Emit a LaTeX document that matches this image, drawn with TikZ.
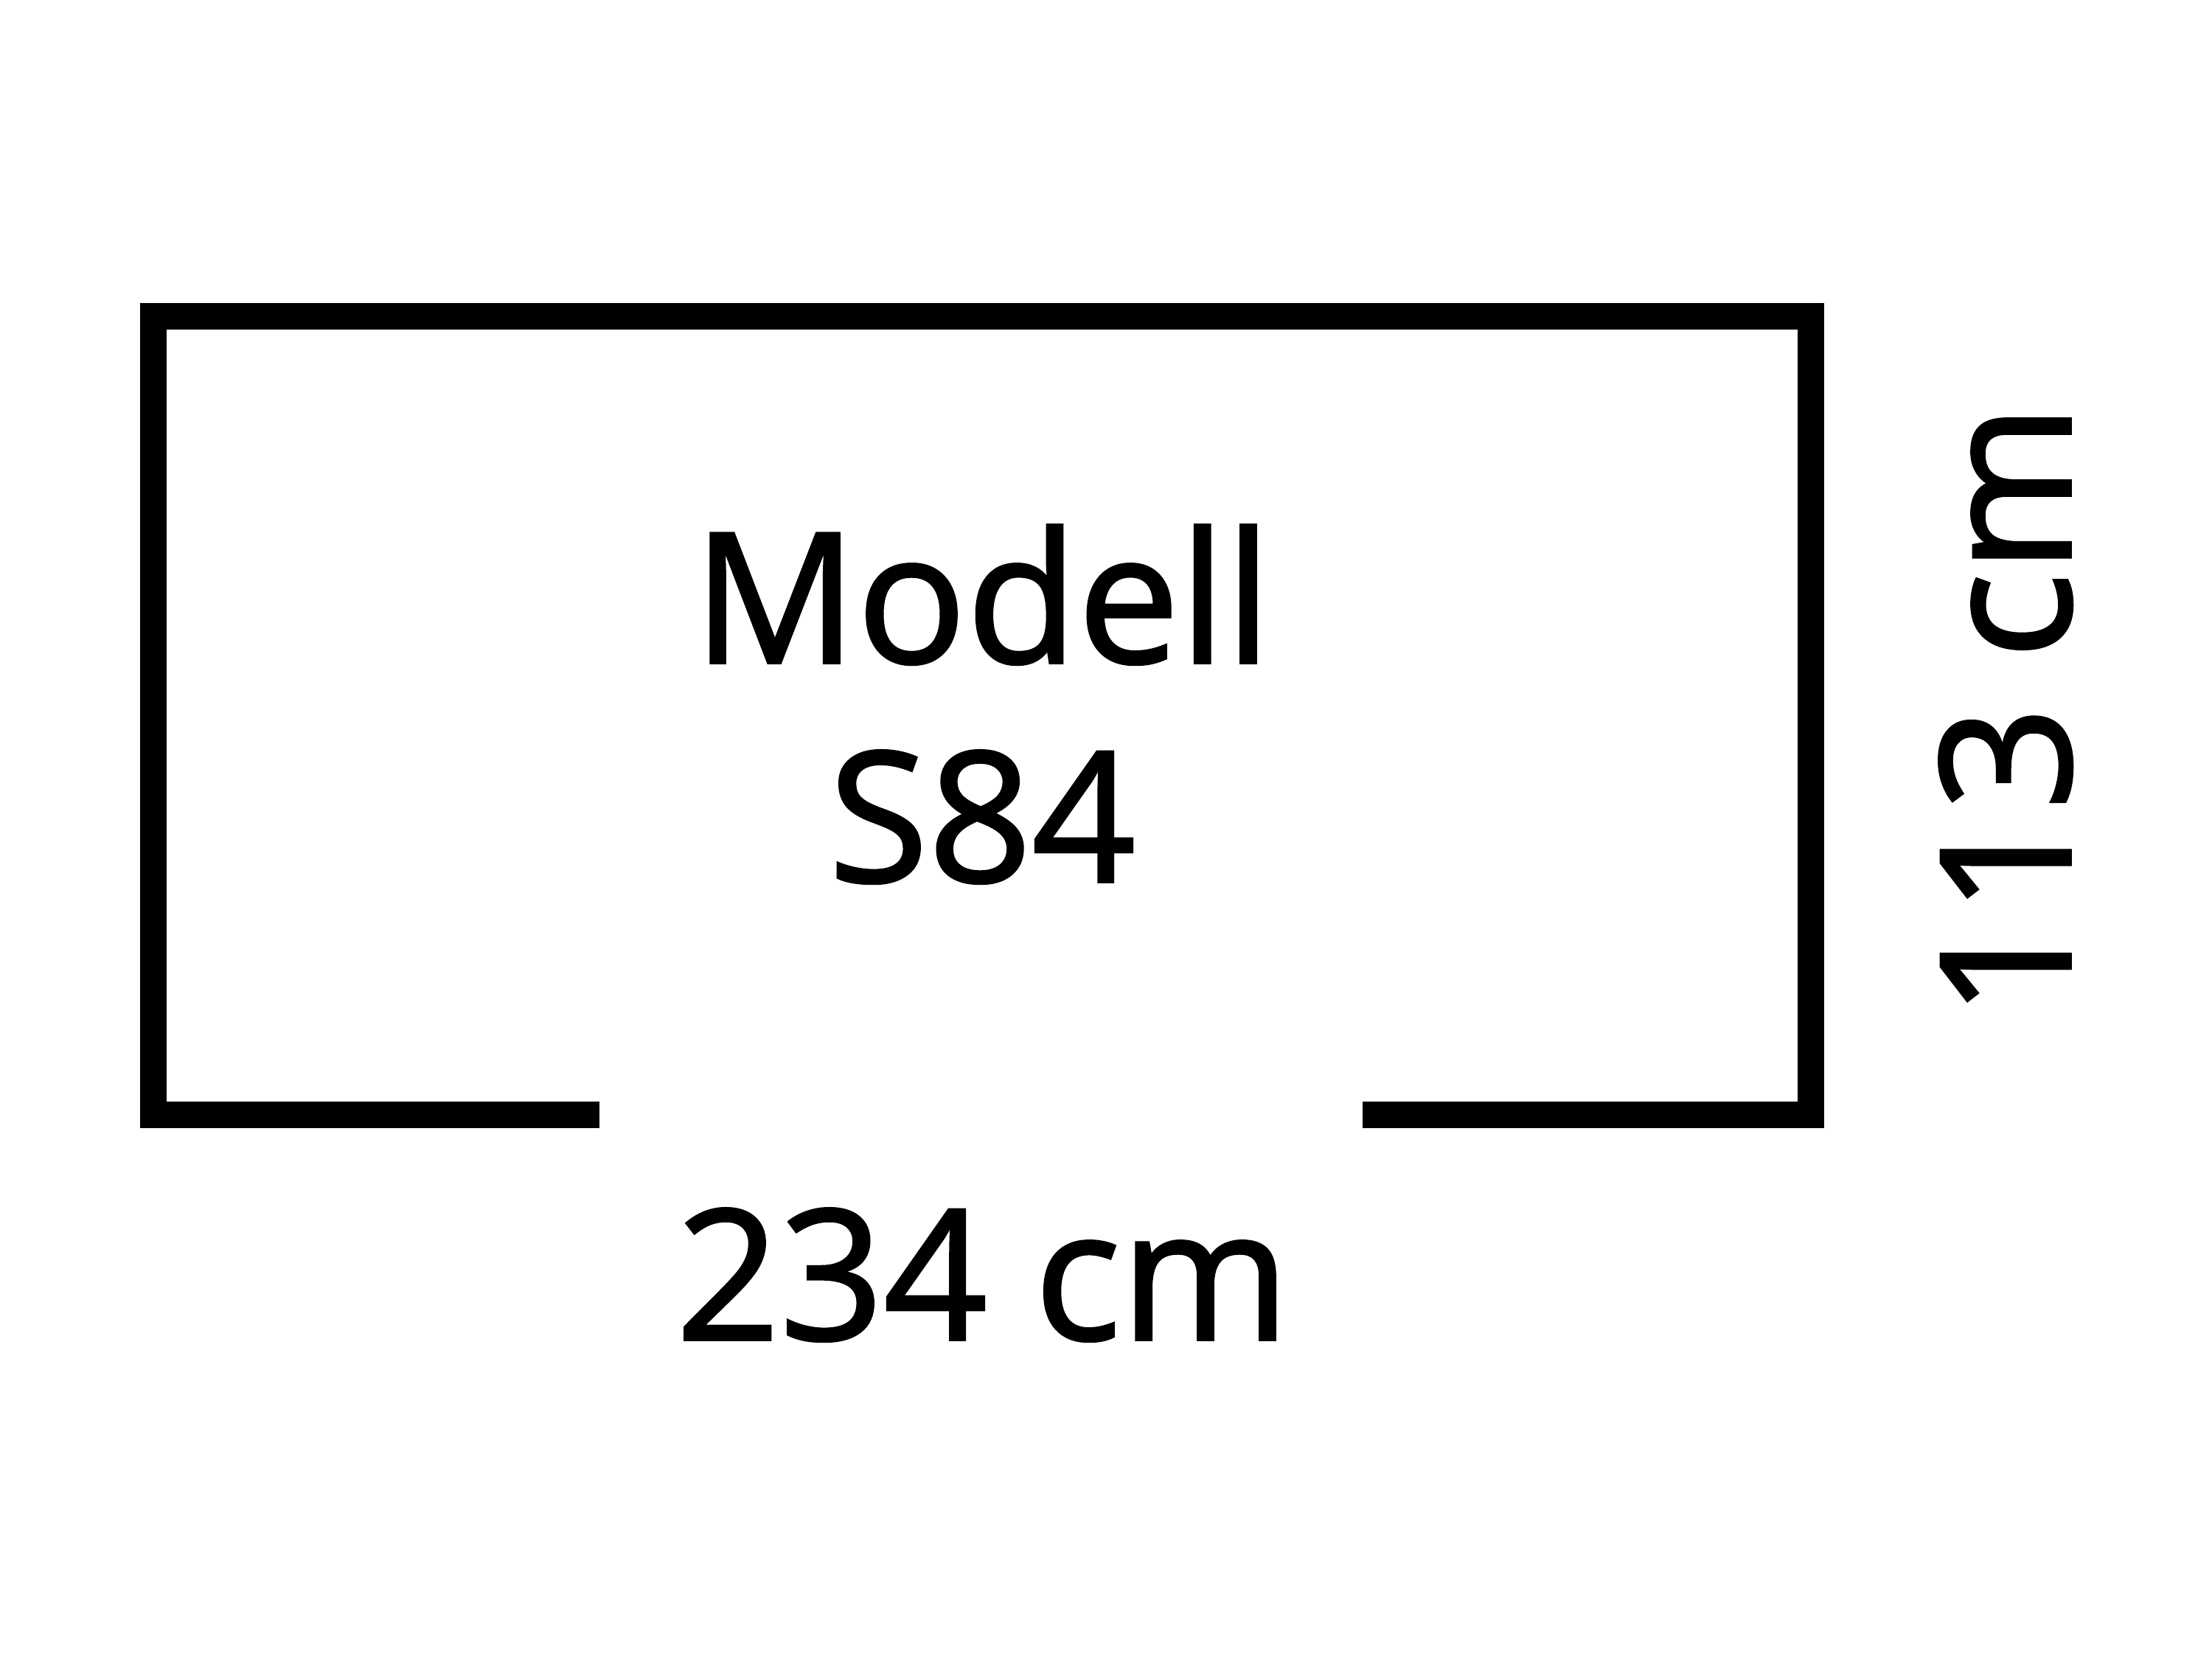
\documentclass[tikz,border=0pt]{standalone}
\usepackage{fontspec}
\setmainfont{Open Sans}[BoldFont=Open Sans, BoldFeatures={FakeBold=1.5}]
\begin{document}
\begin{tikzpicture}[
  wall/.style={line width=0.36cm, line join=miter, line cap=butt, black},
  lbl/.style={font=\fontsize{70}{84}\selectfont\bfseries, inner sep=0pt, anchor=base}
]
\useasboundingbox[fill=white] (0,0) rectangle (30,22.5);
\coordinate (dl) at (8.13,7.375);
\coordinate (bl) at (2.075,7.375);
\coordinate (tl) at (2.075,18.205);
\coordinate (tr) at (24.555,18.205);
\coordinate (br) at (24.555,7.375);
\coordinate (dr) at (18.48,7.375);
\draw[wall] (dl) -- (bl) -- (tl) -- (tr) -- (br) -- (dr);
\node[lbl] (modell) at (13.32,13.51) {Modell};
\node[lbl] (s84) at (13.32,10.54) {S84};
\node[lbl] (width) at (13.33,4.33) {234 cm};
\node[lbl, rotate=90] (depth) at (28.08,12.86) {113 cm};
\end{tikzpicture}
\end{document}
